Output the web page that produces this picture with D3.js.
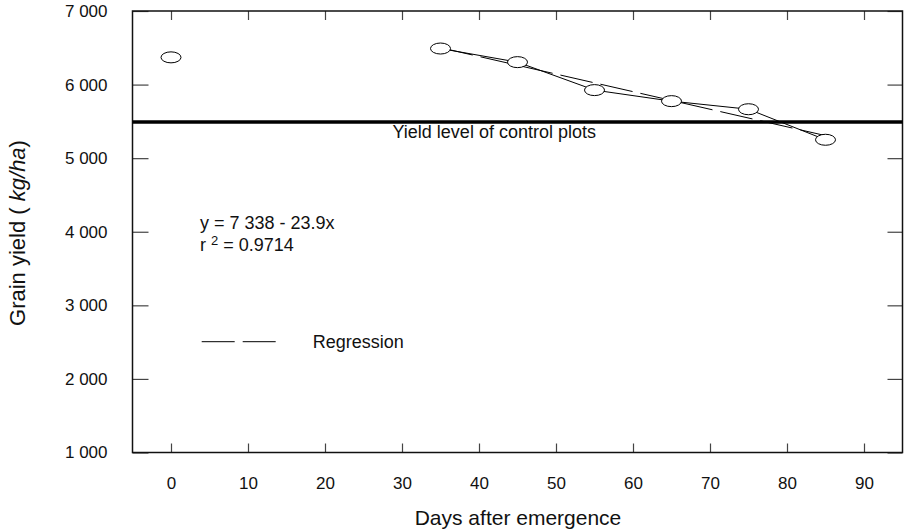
<!DOCTYPE html>
<html><head><meta charset="utf-8">
<script src="https://cdn.jsdelivr.net/npm/d3@7"></script>
<style>body{margin:0;background:#fff}text{font-family:"Liberation Sans",Arial,Helvetica,sans-serif;fill:#111}</style>
</head><body>
<svg id="c" width="907" height="532"></svg>
<script>
// ---- data ----
const days = [0, 35, 45, 55, 65, 75, 85];
const yields = [6370, 6490, 6305, 5925, 5775, 5665, 5250];
const linkedDays = [35, 45, 55, 65, 75, 85];
const controlYield = 5490;
const regIntercept = 7338;
const regSlope = -23.9;
const regDays = [35, 85];
const xTicks = [0, 10, 20, 30, 40, 50, 60, 70, 80, 90];
const yTicks = [1000, 2000, 3000, 4000, 5000, 6000, 7000];
const yTickLabels = ["1 000", "2 000", "3 000", "4 000", "5 000", "6 000", "7 000"];
const xDomain = [-5, 95];
const yDomain = [1000, 7000];

// ---- layout ----
const svg = d3.select("#c");
const L = 132.5, R = 902.5, T = 11, B = 452.5;
const x = d3.scaleLinear().domain(xDomain).range([L, R]);
const y = d3.scaleLinear().domain(yDomain).range([B, T]);

// axes (ticks inside)
const fmtY = d => yTickLabels[yTicks.indexOf(d)];
svg.append("g").attr("transform", `translate(${L},0)`)
  .call(d3.axisLeft(y).tickValues(yTicks).tickFormat(fmtY).tickSize(-16).tickPadding(25))
  .call(g => g.select(".domain").remove());
svg.append("g").attr("transform", `translate(${R},0)`)
  .call(d3.axisRight(y).tickValues(yTicks).tickFormat("").tickSize(-15))
  .call(g => g.select(".domain").remove());
svg.append("g").attr("transform", `translate(0,${B})`)
  .call(d3.axisBottom(x).tickValues(xTicks).tickFormat(d3.format("d")).tickSize(-9).tickPadding(24.5))
  .call(g => g.select(".domain").remove());
svg.append("g").attr("transform", `translate(0,${T})`)
  .call(d3.axisTop(x).tickValues(xTicks).tickFormat("").tickSize(-9))
  .call(g => g.select(".domain").remove());
svg.selectAll(".tick line").attr("stroke", "#444").attr("stroke-width", 1.2);
svg.selectAll(".tick text").style("font-size", "17px").attr("fill", "#111");

// frame
svg.append("rect").attr("x", L).attr("y", T).attr("width", R - L).attr("height", B - T)
  .attr("fill", "none").attr("stroke", "#111").attr("stroke-width", 1.5);

// control level
svg.append("line").attr("x1", L).attr("x2", R).attr("y1", y(controlYield)).attr("y2", y(controlYield))
  .attr("stroke", "#000").attr("stroke-width", 3.5);
svg.append("text").attr("x", 392.5).attr("y", 138).style("font-size", "18px")
  .text("Yield level of control plots");

// regression (dashed)
svg.append("path")
  .attr("d", d3.line().x(d => x(d)).y(d => y(regIntercept + regSlope * d))(regDays))
  .attr("fill", "none").attr("stroke", "#000").attr("stroke-width", 1).attr("stroke-dasharray", "33,8");

// observed connected line
const pts = days.map((d, i) => ({d, v: yields[i]}));
const linked = pts.filter(p => linkedDays.includes(p.d));
svg.append("path")
  .attr("d", d3.line().x(p => x(p.d)).y(p => y(p.v))(linked))
  .attr("fill", "none").attr("stroke", "#000").attr("stroke-width", 1);

// markers
svg.selectAll("ellipse.pt").data(pts).join("ellipse").attr("class", "pt")
  .attr("cx", p => x(p.d)).attr("cy", p => y(p.v)).attr("rx", 10).attr("ry", 5.5)
  .attr("fill", "#fff").attr("stroke", "#000").attr("stroke-width", 1);

// equation
svg.append("text").attr("x", 200).attr("y", 229).style("font-size", "18px").text("y = 7 338 - 23.9x");
const r2 = svg.append("text").attr("x", 200).attr("y", 251).style("font-size", "18px");
r2.append("tspan").text("r ");
r2.append("tspan").attr("dy", -6).style("font-size", "13px").text("2");
r2.append("tspan").attr("dy", 6).text(" = 0.9714");

// legend
svg.append("line").attr("x1", 201.7).attr("x2", 276.7).attr("y1", 341.7).attr("y2", 341.7)
  .attr("stroke", "#000").attr("stroke-width", 1).attr("stroke-dasharray", "33,8");
svg.append("text").attr("x", 312.7).attr("y", 348).style("font-size", "18px").text("Regression");

// axis titles
svg.append("text").attr("x", 518).attr("y", 525).attr("text-anchor", "middle").style("font-size", "21px")
  .text("Days after emergence");
const yt = svg.append("text").attr("transform", "translate(25,233) rotate(-90)")
  .attr("text-anchor", "middle").style("font-size", "22px");
yt.append("tspan").text("Grain yield ( ");
yt.append("tspan").style("font-style", "italic").text("kg/ha");
yt.append("tspan").text(")");
</script>
</body></html>
